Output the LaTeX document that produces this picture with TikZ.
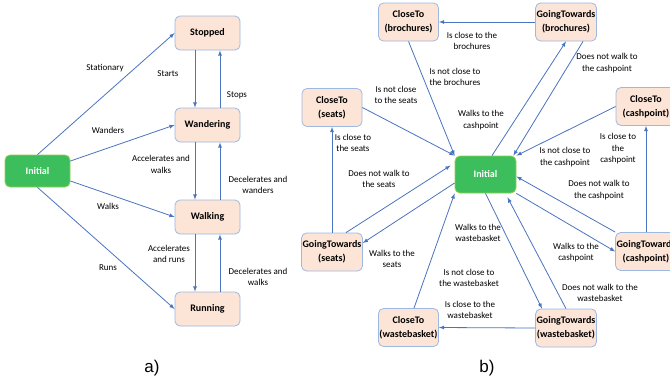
\documentclass[tikz,border=0pt]{standalone}
\usepackage{fontspec}
\setmainfont{Carlito}
\newfontfamily\capfont{Liberation Sans}

\definecolor{statefill}{HTML}{FCE4D6}
\definecolor{stateline}{HTML}{9DB9E3}
\definecolor{initfill}{HTML}{3DBE5C}
\definecolor{initline}{HTML}{92D050}
\definecolor{arrowblue}{HTML}{4A74C0}

\tikzset{
  state/.style={draw=stateline, fill=statefill, line width=0.8pt, rounded corners=5pt,
    align=center, inner sep=1pt, font=\bfseries\fontsize{10}{14}\selectfont},
  init/.style={state, draw=initline, fill=initfill, text=white},
  lstate/.style={state, minimum width=65pt, minimum height=34pt},
  rstate/.style={state, minimum width=60pt, minimum height=38pt},
  trans/.style={->, >=latex, draw=arrowblue, line width=0.8pt},
  lbl/.style={align=center, inner sep=0pt, font=\fontsize{9}{11.5}\selectfont},
}

\begin{document}
\begin{tikzpicture}[x=1pt, y=-1pt]

\useasboundingbox (0,0) rectangle (670,381);
\fill[white] (0,0) rectangle (670,381);

% a) movement states
\node[init, minimum width=65pt, minimum height=32pt] (ini) at (37.5,171) {Initial};
\node[lstate] (stop) at (207.5,33) {Stopped};
\node[lstate] (wand) at (207.5,125) {Wandering};
\node[lstate] (walk) at (207.5,217) {Walking};
\node[lstate] (run)  at (207.5,309) {Running};

\draw[trans] (ini.north) -- (stop.west);
\draw[trans] ([yshift=10pt]ini.east) -- (wand.west);
\draw[trans] ([yshift=-10pt]ini.east) -- (walk.west);
\draw[trans] (ini.south) -- (run.west);

\draw[trans] ([xshift=-12.5pt]stop.south) -- ([xshift=-12.5pt]wand.north);
\draw[trans] ([xshift=12.5pt]wand.north) -- ([xshift=12.5pt]stop.south);
\draw[trans] ([xshift=-12.5pt]wand.south) -- ([xshift=-12.5pt]walk.north);
\draw[trans] ([xshift=12.5pt]walk.north) -- ([xshift=12.5pt]wand.south);
\draw[trans] ([xshift=-12.5pt]walk.south) -- ([xshift=-12.5pt]run.north);
\draw[trans] ([xshift=12.5pt]run.north) -- ([xshift=12.5pt]walk.south);

\node[lbl] (lstat) at (105,68) {Stationary};
\node[lbl] (lwand) at (108,130) {Wanders};
\node[lbl] (lwalk) at (108,206) {Walks};
\node[lbl] (lrun)  at (108,268) {Runs};
\node[lbl] (lstart) at (168,74) {Starts};
\node[lbl] (lstop)  at (237,95) {Stops};
\node[lbl] (lacw) at (161,164.5) {Accelerates and\\walks};
\node[lbl] (ldew) at (258,185) {Decelerates and\\wanders};
\node[lbl] (lacr) at (169,254) {Accelerates\\and runs};
\node[lbl] (ldewk) at (258,277) {Decelerates and\\walks};

\node[font=\capfont\fontsize{17}{20}\selectfont] (capa) at (152,368) {a)};

% b) closeness states
\node[init, minimum width=61pt, minimum height=37pt] (ini2) at (485.5,174.5) {Initial};
\node[rstate] (cb) at (408.5,22) {CloseTo\\(brochures)};
\node[rstate] (gb) at (566,22) {GoingTowards\\(brochures)};
\node[rstate] (cs) at (332,107.5) {CloseTo\\(seats)};
\node[rstate] (gs) at (332,252) {GoingTowards\\(seats)};
\node[rstate] (cc) at (646,106.5) {CloseTo\\(cashpoint)};
\node[rstate] (gc) at (646,251.5) {GoingTowards\\(cashpoint)};
\node[rstate] (cw) at (408.5,327.5) {CloseTo\\(wastebasket)};
\node[rstate] (gw) at (566,328) {GoingTowards\\(wastebasket)};

\draw[trans] (gb.west) -- (cb.east);
\draw[trans] (cb.south) -- (ini2.north west);
\draw[trans] ([xshift=6.5pt]ini2.north) -- (gb.south);
\draw[trans] ([xshift=17pt]gb.south) -- ([xshift=-3pt]ini2.north east);
\draw[trans] (cc.west) -- (ini2.north east);
\draw[trans] (gc.north) -- (cc.south);
\draw[trans] (gc.north west) -- ([yshift=-2pt]ini2.east);
\draw[trans] (ini2.south east) -- (gc.west);
\draw[trans] (ini2.south) -- ([xshift=-24pt]gw.north);
\draw[trans] (gw.north) -- ([xshift=22pt,yshift=-4pt]ini2.south);
\draw[trans] (gw.west) -- (cw.east);
\draw[trans] ([xshift=5.5pt]cw.north) -- (ini2.south west);
\draw[trans] (cs.east) -- (ini2.north west);
\draw[trans] ([xshift=14pt]gs.north) -- ([xshift=-4pt,yshift=9pt]ini2.west);
\draw[trans] ([yshift=-8.5pt]ini2.west) -- ([yshift=9pt]gs.east);
\draw[trans] (gs.north) -- (cs.south);

\node[lbl] (lcb)  at (472,41) {Is close to the\\brochures};
\node[lbl] (lncb) at (455,77) {Is not close to\\the brochures};
\node[lbl] (lwgb) at (481,120) {Walks to the\\cashpoint};
\node[lbl] (lngb) at (607,63) {Does not walk to\\the cashpoint};
\node[lbl] (lncc) at (565,157) {Is not close to\\the cashpoint};
\node[lbl] (lcc)  at (618,149) {Is close to\\the\\cashpoint};
\node[lbl] (lngc) at (599,190) {Does not walk to\\the cashpoint};
\node[lbl] (lwgc) at (576,252.5) {Walks to the\\cashpoint};
\node[lbl] (lngw) at (600,293) {Does not walk to the\\wastebasket};
\node[lbl] (lwgw) at (478,233) {Walks to the\\wastebasket};
\node[lbl] (lncw) at (469,278) {Is not close to\\the wastebasket};
\node[lbl] (lcw)  at (470,310) {Is close to the\\wastebasket};
\node[lbl] (lncs) at (396,95) {Is not close\\to the seats};
\node[lbl] (lcs)  at (353,143) {Is close to\\the seats};
\node[lbl] (lngs) at (379,179) {Does not walk to\\the seats};
\node[lbl] (lwgs) at (392,259) {Walks to the\\seats};

\node[font=\capfont\fontsize{17}{20}\selectfont] (capb) at (487,368) {b)};

\end{tikzpicture}
\end{document}
